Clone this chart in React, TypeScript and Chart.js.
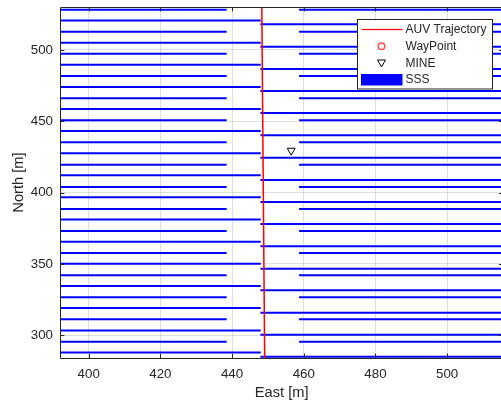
import { useEffect, useRef } from 'react';
import { Chart, registerables } from 'chart.js';

Chart.register(...registerables);

// ---- axes ----
const eastTicks = [400, 420, 440, 460, 480, 500];
const northTicks = [300, 350, 400, 450, 500];
const eastRange = [392, 515.7];
const northRange = [284.1, 530.1];

// ---- series ----
const trajectoryEast = [449.1, 448.3];
const trajectoryNorth = [284.1, 530.1];
const wayPointEast: number[] = [];
const wayPointNorth: number[] = [];
const mineEast = [456.5];
const mineNorth = [429.5];

// SSS swath lines (north of each ping line)
const sssLeftShortNorth = [528.25, 512.83, 497.4, 481.77, 466.14, 450.72, 435.29, 419.59, 403.96, 388.54, 373.12, 357.69, 342.06, 326.64, 311.22, 295.52];
const sssRightShortNorth = [528.25, 512.83, 497.4, 481.77, 466.14, 450.72, 435.29, 419.59, 403.96, 388.54, 373.12, 357.69, 342.06, 326.64, 311.22, 295.52];
const sssLeftLongNorth = [520.68, 505.11, 489.69, 474.06, 458.64, 443.22, 427.58, 412.16, 396.74, 381.18, 365.62, 350.19, 334.56, 319.14, 303.37, 287.94];
const sssRightLongNorth = [518.01, 502.31, 486.68, 471.26, 455.83, 440.2, 424.5, 408.87, 393.45, 378.02, 362.39, 346.69, 331.55, 315.85, 300.43, 285.0];
// east extents of each kind of swath line [start, end]
const sssLeftShortEast = [390, 438.5];
const sssLeftLongEast = [390, 448.0];
const sssRightLongEast = [447.9, 520];
const sssRightShortEast = [458.7, 520];

const legendLabels = ['AUV Trajectory', 'WayPoint', 'MINE', 'SSS'];

const FONT = "'Liberation Sans', Arial, Helvetica, sans-serif";
const AXIS_COLOR = '#262626';
const GRID_COLOR = 'rgba(38,38,38,0.15)';
const TRAJ_COLOR = '#ff0000';
const SSS_COLOR = '#0000ff';

const boxPlugin = {
  id: 'matlabBox',
  afterDatasetsDraw(chart: any) {
    const { ctx, chartArea } = chart;
    const { left, right, top, bottom } = chartArea;
    const xs = chart.scales.x;
    const ys = chart.scales.y;
    const tl = 4.4;
    ctx.save();
    ctx.strokeStyle = AXIS_COLOR;
    ctx.lineWidth = 1;
    ctx.beginPath();
    ctx.moveTo(left + 0.5, top + 0.5);
    ctx.lineTo(right - 0.5, top + 0.5);
    ctx.lineTo(right - 0.5, bottom + 0.5);
    ctx.lineTo(left + 0.5, bottom + 0.5);
    ctx.closePath();
    for (const v of eastTicks) {
      const px = Math.round(xs.getPixelForValue(v)) + 0.5;
      ctx.moveTo(px, bottom);
      ctx.lineTo(px, bottom - tl);
      ctx.moveTo(px, top);
      ctx.lineTo(px, top + tl);
    }
    for (const v of northTicks) {
      const py = Math.round(ys.getPixelForValue(v)) + 0.5;
      ctx.moveTo(left, py);
      ctx.lineTo(left + tl, py);
      ctx.moveTo(right, py);
      ctx.lineTo(right - tl, py);
    }
    ctx.stroke();
    ctx.restore();
  },
};

const legendPlugin = {
  id: 'matlabLegend',
  afterDraw(chart: any) {
    const { ctx } = chart;
    const bx = 357.5, by = 19.5, bw = 135, bh = 69.5;
    ctx.save();
    ctx.fillStyle = '#ffffff';
    ctx.fillRect(bx, by, bw, bh);
    ctx.strokeStyle = AXIS_COLOR;
    ctx.lineWidth = 1;
    ctx.strokeRect(bx, by, bw, bh);
    const rows = [29.5, 46.3, 63.3, 80];
    const iconL = 361.5, iconR = 402.5, iconC = 381.5, textX = 405.5;
    // AUV trajectory line
    ctx.fillStyle = TRAJ_COLOR;
    ctx.fillRect(iconL, rows[0] - 0.6, iconR - iconL, 1.2);
    // waypoint circle
    ctx.beginPath();
    ctx.strokeStyle = '#ff4d4d';
    ctx.lineWidth = 1.5;
    ctx.arc(iconC, rows[1], 3.3, 0, Math.PI * 2);
    ctx.stroke();
    // mine triangle
    ctx.beginPath();
    ctx.strokeStyle = '#000000';
    ctx.lineWidth = 1;
    ctx.moveTo(iconC - 4, rows[2] - 3.3);
    ctx.lineTo(iconC + 4, rows[2] - 3.3);
    ctx.lineTo(iconC, rows[2] + 3.6);
    ctx.closePath();
    ctx.stroke();
    // SSS patch
    ctx.fillStyle = SSS_COLOR;
    ctx.fillRect(361, 74, 41.5, 11.5);
    // labels
    ctx.fillStyle = AXIS_COLOR;
    ctx.font = `12px ${FONT}`;
    ctx.textBaseline = 'middle';
    ctx.textAlign = 'left';
    legendLabels.forEach((t, i) => ctx.fillText(t, textX, rows[i]));
    ctx.restore();
  },
};

function segment(east: number[], north: number) {
  return {
    type: 'line' as const,
    data: [
      { x: east[0], y: north },
      { x: east[1], y: north },
    ],
    borderColor: SSS_COLOR,
    borderWidth: 2,
    pointRadius: 0,
    fill: false,
    clip: 0,
    order: 2,
  };
}

function noPad(scale: any) {
  scale.paddingLeft = 0;
  scale.paddingRight = 0;
  scale.paddingTop = 0;
  scale.paddingBottom = 0;
}

export default function App() {
  const ref = useRef<HTMLCanvasElement | null>(null);

  useEffect(() => {
    if (!ref.current) return;
    const sss = [
      ...sssLeftShortNorth.map((n) => segment(sssLeftShortEast, n)),
      ...sssLeftLongNorth.map((n) => segment(sssLeftLongEast, n)),
      ...sssRightLongNorth.map((n) => segment(sssRightLongEast, n)),
      ...sssRightShortNorth.map((n) => segment(sssRightShortEast, n)),
    ];
    const datasets: any[] = [
      {
        label: legendLabels[0],
        data: trajectoryEast.map((x, i) => ({ x, y: trajectoryNorth[i] })),
        borderColor: TRAJ_COLOR,
        borderWidth: 1.5,
        pointRadius: 0,
        clip: 0,
        order: 0,
      },
      {
        label: legendLabels[1],
        data: wayPointEast.map((x, i) => ({ x, y: wayPointNorth[i] })),
        showLine: false,
        pointStyle: 'circle',
        pointRadius: 3.3,
        pointBorderColor: TRAJ_COLOR,
        pointBackgroundColor: 'transparent',
        clip: 0,
        order: 0,
      },
      {
        label: legendLabels[2],
        data: mineEast.map((x, i) => ({ x, y: mineNorth[i] })),
        showLine: false,
        pointStyle: 'triangle',
        rotation: 180,
        pointRadius: 4.6,
        pointBorderColor: '#000000',
        pointBackgroundColor: 'transparent',
        pointBorderWidth: 1,
        clip: 0,
        order: 0,
      },
      ...sss,
    ];

    const chart = new Chart(ref.current, {
      type: 'line',
      data: { datasets },
      plugins: [boxPlugin, legendPlugin],
      options: {
        animation: false,
        responsive: false,
        devicePixelRatio: 1,
        layout: { padding: { top: 7, right: 0, bottom: 0, left: 0 } },
        plugins: { legend: { display: false }, tooltip: { enabled: false } },
        scales: {
          x: {
            type: 'linear',
            position: 'bottom',
            min: eastRange[0],
            max: eastRange[1],
            afterBuildTicks: (scale: any) => {
              scale.ticks = eastTicks.map((v) => ({ value: v }));
            },
            afterFit: (scale: any) => {
              scale.height = 46;
              noPad(scale);
            },
            grid: { color: GRID_COLOR, drawTicks: false, lineWidth: 1 },
            border: { display: false },
            ticks: {
              font: { family: FONT, size: 13.33 },
              color: AXIS_COLOR,
              padding: 8,
              maxRotation: 0,
              autoSkip: false,
            },
            title: {
              display: true,
              text: 'East [m]',
              color: AXIS_COLOR,
              font: { family: FONT, size: 14.67 },
              padding: { top: 0, bottom: 2 },
            },
          },
          y: {
            type: 'linear',
            position: 'left',
            min: northRange[0],
            max: northRange[1],
            afterBuildTicks: (scale: any) => {
              scale.ticks = northTicks.map((v) => ({ value: v }));
            },
            afterFit: (scale: any) => {
              scale.width = 60;
              noPad(scale);
            },
            grid: { color: GRID_COLOR, drawTicks: false, lineWidth: 1 },
            border: { display: false },
            ticks: {
              font: { family: FONT, size: 13.33 },
              color: AXIS_COLOR,
              padding: 7,
              autoSkip: false,
            },
            title: {
              display: true,
              text: 'North [m]',
              color: AXIS_COLOR,
              font: { family: FONT, size: 14.67 },
              padding: { top: 10, bottom: 0 },
            },
          },
        },
      },
    } as any);
    return () => chart.destroy();
  }, []);

  return (
    <div
      style={{
        position: 'absolute',
        left: 0,
        top: 0,
        width: 501,
        height: 404,
        overflow: 'hidden',
        background: '#ffffff',
      }}
    >
      <canvas
        ref={ref}
        width={509}
        height={404}
        style={{ display: 'block', width: 509, height: 404 }}
      />
    </div>
  );
}
